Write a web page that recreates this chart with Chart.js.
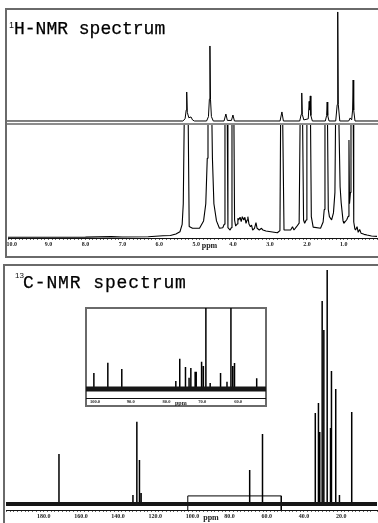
<!DOCTYPE html>
<html>
<head>
<meta charset="utf-8">
<script src="https://cdn.jsdelivr.net/npm/chart.js@4.4.1/dist/chart.umd.min.js"></script>
<style>
  html, body { margin: 0; padding: 0; background: #fff; width: 378px; height: 523px; overflow: hidden; }
  .frame { position: absolute; border: 2px solid #6a6a6a; box-sizing: border-box; }
  .title { position: absolute; font-family: "Liberation Mono", monospace; font-size: 18px; line-height: 1; color: #000; white-space: nowrap; -webkit-text-stroke: 0.25px #000; }
  .sup { position: absolute; font-family: "Liberation Sans", sans-serif; line-height: 1; color: #111; }
  .ppm { position: absolute; width: 30px; text-align: center; font-family: "Liberation Serif", serif; font-weight: bold; line-height: 1; color: #222; }
  canvas { position: absolute; }
</style>
</head>
<body>

<!-- 1H panel -->
<div class="frame" style="left:5px; top:8px; width:420px; height:250px;"></div>
<canvas id="hUpper" width="371" height="112" style="left:7px; top:10px;"></canvas>
<div style="position:absolute; left:7px; top:123px; width:371px; height:2px; background:#8c8c8c;"></div>
<canvas id="hLower" width="371" height="131" style="left:7px; top:125px;"></canvas>
<span class="sup" style="left:9px; top:20.5px; font-size:9px;">1</span>
<span class="title" style="left:14px; top:19.5px;">H-NMR spectrum</span>
<div class="ppm" style="left:194.5px; top:242px; font-size:8px;">ppm</div>

<!-- 13C panel -->
<div class="frame" style="left:3px; top:264px; width:420px; height:300px;"></div>
<canvas id="cMain" width="373" height="257" style="left:5px; top:266px;"></canvas>
<span class="sup" style="left:15px; top:272.3px; font-size:8px;">13</span>
<span class="title" style="left:23px; top:273.5px; letter-spacing:0.9px;">C-NMR spectrum</span>
<div class="ppm" style="left:196px; top:513.6px; font-size:8px;">ppm</div>

<!-- expanded 13C region -->
<div class="frame" style="left:85px; top:307px; width:182px; height:100px; background:#fff;"></div>
<canvas id="cInset" width="180" height="98" style="left:86px; top:308px;"></canvas>
<div class="ppm" style="left:165.8px; top:399.5px; font-size:6px;">ppm</div>

<script>
// 1H spectrum, upper trace (full scale)
const hUpperPpm = [10.1, 5.36, 5.30, 5.27, 5.256, 5.24, 5.20, 5.14, 5.10, 5.05,
  4.72, 4.67, 4.645, 4.63, 4.615, 4.59, 4.54, 4.25, 4.20, 4.16, 4.05, 4.01, 3.97,
  2.74, 2.69, 2.65, 2.21, 2.17, 2.155, 2.14, 2.10, 1.98, 1.955, 1.94, 1.925, 1.91, 1.87,
  1.52, 1.485, 1.47, 1.455, 1.42, 1.24, 1.20, 1.185, 1.17, 1.13,
  0.89, 0.85, 0.81, 0.785, 0.77, 0.755, 0.72, 0.1];
const hUpperInt = [0, 0, 2, 10, 26.6, 8, 3, 3.7, 1, 0,
  0, 4, 20, 68.8, 20, 4, 0, 0, 6.4, 0.5, 0.5, 5.5, 0,
  0, 8.3, 0, 0, 6, 25.7, 6, 1, 2, 18, 10, 23, 5, 0,
  0, 5, 17.4, 5, 0, 0, 15, 100, 15, 0,
  0, 2.8, 1, 10, 37.6, 10, 0, 0];

// 1H spectrum, lower trace (expanded; tall peaks run off the top)
const hLowerPpm = [10.1, 9.0, 8.0, 7.3, 7.0, 6.3, 5.9, 5.7, 5.55, 5.44, 5.38, 5.35, 5.32, 5.22, 5.19, 5.10,
  4.91, 4.80, 4.74, 4.70, 4.68, 4.58, 4.56, 4.52, 4.45, 4.37, 4.28, 4.24, 4.22, 4.16, 4.14, 4.08, 4.05,
  4.03, 3.98, 3.96, 3.93, 3.89, 3.87, 3.85, 3.81, 3.78, 3.75, 3.71, 3.68, 3.65, 3.62, 3.60, 3.57, 3.53,
  3.50, 3.47, 3.42, 3.38, 3.35, 3.29, 3.23, 3.19, 3.11, 2.98, 2.80, 2.73, 2.71, 2.66, 2.62, 2.44, 2.39,
  2.35, 2.28, 2.21, 2.18, 2.12, 2.09, 2.06, 2.02, 2.00, 1.905, 1.88, 1.83, 1.63, 1.56, 1.53, 1.51, 1.445,
  1.42, 1.39, 1.33, 1.28, 1.24, 1.22, 1.14, 1.10, 1.07, 1.02, 1.00, 0.92, 0.88, 0.86, 0.845, 0.82, 0.805,
  0.745, 0.73, 0.70, 0.68, 0.64, 0.61, 0.57, 0.53, 0.45, 0.37, 0.25, 0.1];
const hLowerInt = [0.6, 0.7, 0.8, 1.2, 0.9, 1.1, 2.0, 2.2, 3.5, 5.5, 12, 30, 115, 115, 10, 8.5,
  8.5, 15, 30, 70, 115, 115, 70, 30, 15, 8.5, 9.0, 12, 115, 115, 9, 7.0, 9,
  115, 115, 15.8, 10.5, 12.3, 17.3, 15.8, 18.2, 14.3, 18.7, 15.8, 18.2, 12.9, 15.8, 18.7, 12.3, 9.9,
  11.4, 7.0, 8.5, 13.4, 8.5, 7.0, 8.5, 7.0, 6.1, 5.5, 4.6, 6.5, 115, 115, 7.0, 7.0, 9.9,
  7.0, 9.9, 13, 115, 115, 15.8, 12.9, 15.8, 115, 115, 18.7, 9.5, 8.5, 14, 25, 115, 115,
  25, 18.7, 15.8, 22, 40, 115, 115, 45, 30.7, 15, 12.9, 16, 19, 86, 30, 40, 115,
  115, 14, 8, 7, 10, 5, 7.5, 4.1, 3.2, 2.6, 1.8, 1.4];
const hTickLabels = [10, 9, 8, 7, 6, 5, 4, 3, 2, 1];

// 13C spectrum peaks
const cPeakPpm = [171.8, 132.0, 129.9, 128.5, 127.6, 69.2, 62.3, 33.9, 32.2, 31.5,
  30.2, 29.3, 27.5, 25.7, 25.2, 22.9, 20.9, 14.3];
const cPeakInt = [21.0, 3.8, 34.6, 18.5, 4.6, 14.3, 29.4, 38.2, 42.4, 30.3,
  85.3, 73.1, 98.3, 31.9, 55.9, 48.3, 3.8, 38.7];
const cTickLabels = [180, 160, 140, 120, 100, 80, 60, 40, 20];

// expanded 13C region (the boxed part of the main trace)
const zoomRangePpm = [102.5, 52.2];
const zoomBoxTop = 3.4;
const cInsetPpm = [100.3, 96.4, 92.5, 77.4, 76.3, 74.7, 73.7, 73.2, 72.0, 71.7,
  70.2, 69.7, 69.0, 67.8, 64.9, 63.1, 62.0, 61.5, 61.0, 54.8];
const cInsetInt = [19.8, 32.5, 24.7, 9.9, 37.4, 27.2, 14.0, 25.9, 21.4, 21.4,
  33.7, 28.4, 250, 7.4, 19.8, 9.0, 500, 28.4, 32.1, 13.2];
const cInsetTickLabels = [100, 90, 80, 70, 60];

const toPoints = (xs, ys) => xs.map((x, i) => ({x: x, y: ys[i]}));
const toSticks = (xs, ys) => xs.flatMap((x, i) => [{x: x, y: 0}, {x: x, y: ys[i]}, {x: x, y: 0}]);

const trace = (data, width, color) => ({
  data: data, borderColor: color || '#000', borderWidth: width, pointRadius: 0,
  tension: 0, fill: false, borderJoinStyle: 'bevel'
});

function ppmScale(min, max, step, labels, fontSize, tickLen, pad, axisHeight) {
  const isLabel = v => labels.some(t => Math.abs(t - v) < 1e-6);
  return {
    type: 'linear', reverse: true, min: min, max: max,
    display: axisHeight > 0,
    border: {display: true, color: '#111', width: 1},
    grid: {drawOnChartArea: false, tickLength: tickLen, tickColor: '#444', tickWidth: 0.8},
    ticks: {
      stepSize: step, autoSkip: false, maxRotation: 0, minRotation: 0, padding: pad,
      color: '#222', font: {family: 'Liberation Serif', weight: 'bold', size: fontSize},
      callback: v => isLabel(v) ? v.toFixed(1) : ''
    },
    afterFit: s => { s.height = axisHeight; }
  };
}

function makeChart(id, datasets, xScale, yMin, yMax) {
  return new Chart(document.getElementById(id), {
    type: 'line',
    data: {datasets: datasets},
    options: {
      responsive: false, animation: false, events: [],
      layout: {padding: 0},
      plugins: {legend: {display: false}, tooltip: {enabled: false}},
      scales: {x: xScale, y: {type: 'linear', display: false, min: yMin, max: yMax}}
    }
  });
}

const hRange = [0.1, 10.1];

makeChart('hUpper', [trace(toPoints(hUpperPpm, hUpperInt), 1)],
  ppmScale(hRange[0], hRange[1], 0.1, hTickLabels, 6, 2, 1, 0), -0.92, 101.8);

makeChart('hLower', [trace(toPoints(hLowerPpm, hLowerInt), 1.1)],
  ppmScale(hRange[0], hRange[1], 0.1, hTickLabels, 6, 2, 1, 18), 0, 99.1);

const cRange = [0.7, 200.3];
makeChart('cMain', [
  // noise band along the baseline
  trace([{x: cRange[1], y: 0}, {x: cRange[0], y: 0}], 4, '#161616'),
  trace(toSticks(cPeakPpm, cPeakInt), 1.5),
  // box marking the expanded region
  trace([{x: zoomRangePpm[0], y: -5}, {x: zoomRangePpm[0], y: zoomBoxTop},
         {x: zoomRangePpm[1], y: zoomBoxTop}, {x: zoomRangePpm[1], y: -5}], 1)
], ppmScale(cRange[0], cRange[1], 2, cTickLabels, 6, 2, 1, 13), -2.52, 100);

makeChart('cInset', [
  trace([{x: zoomRangePpm[0], y: 0}, {x: zoomRangePpm[1], y: 0}], 5, '#161616'),
  trace(toSticks(cInsetPpm, cInsetInt), 1.5)
], ppmScale(zoomRangePpm[1], zoomRangePpm[0], 1, cInsetTickLabels, 4.5, 1, 0, 8), -11.1, 100);
</script>
</body>
</html>
